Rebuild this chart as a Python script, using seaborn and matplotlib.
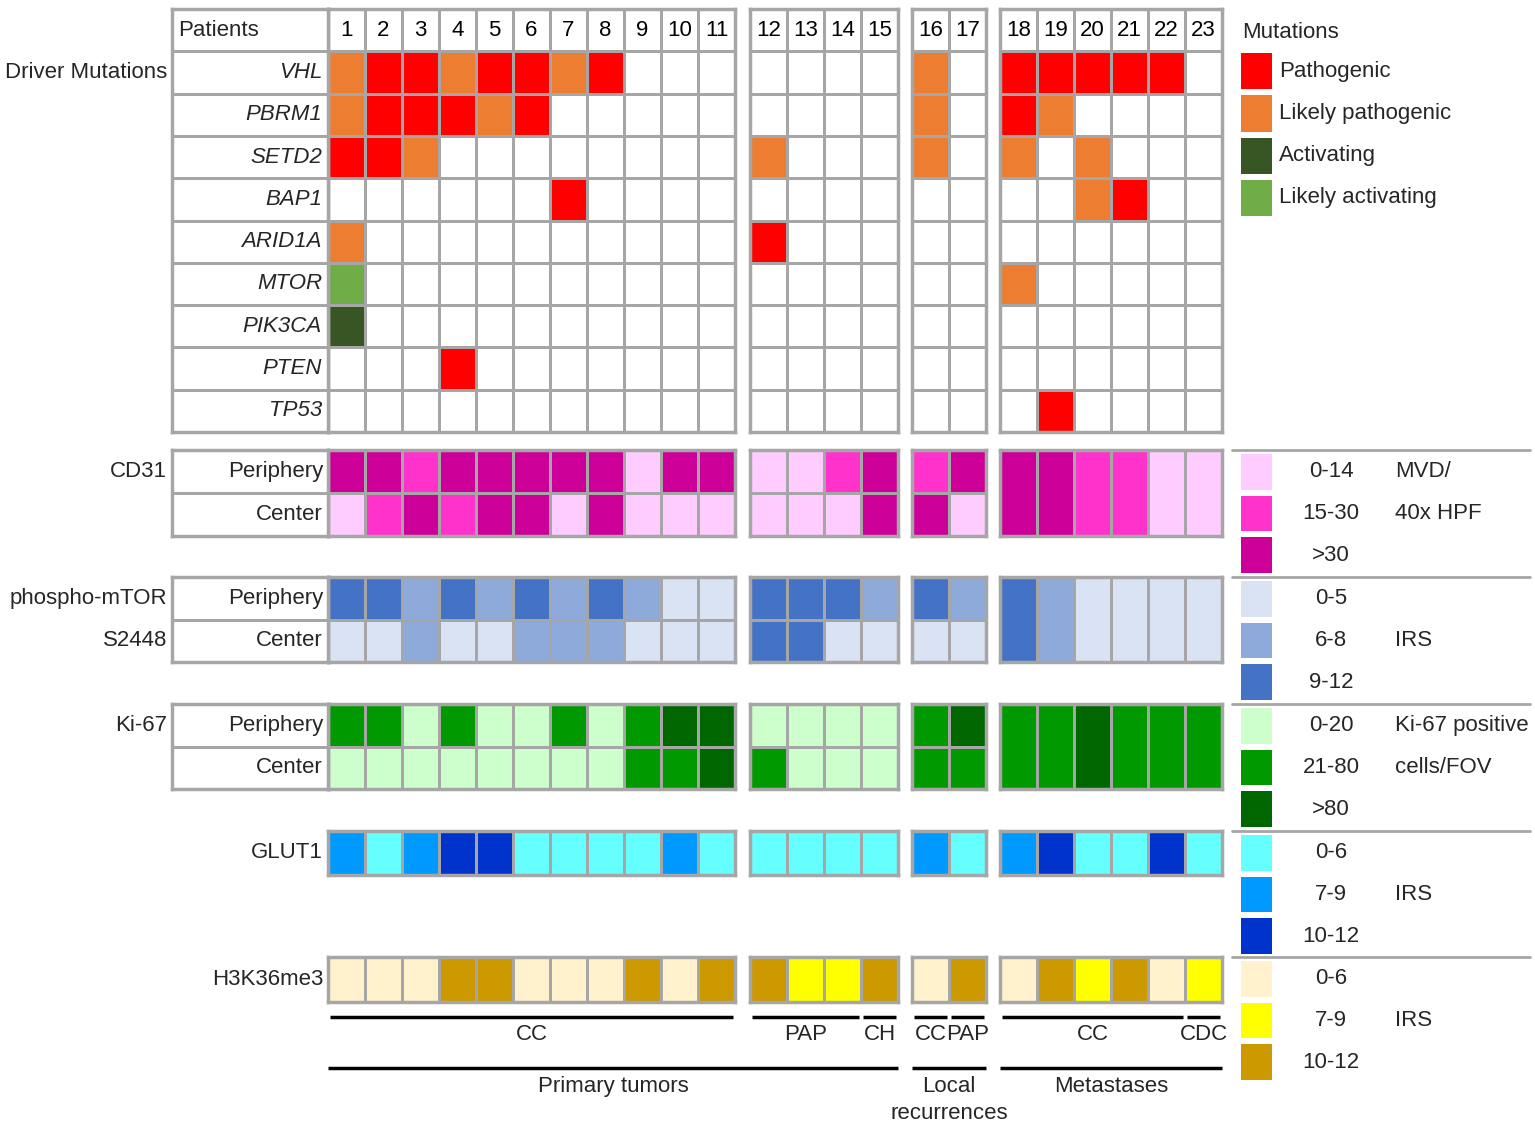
import numpy as np
import seaborn as sns
import matplotlib.pyplot as plt
from matplotlib.colors import ListedColormap

# ---------------------------------------------------------------------
# data
# ---------------------------------------------------------------------
patients = [str(p) for p in range(1, 24)]
groups = [11, 4, 2, 6]  # patients per column block

genes = ["VHL", "PBRM1", "SETD2", "BAP1", "ARID1A", "MTOR", "PIK3CA", "PTEN", "TP53"]
mutation_types = ["Pathogenic", "Likely pathogenic", "Activating", "Likely activating"]
# 0 none, 1 pathogenic, 2 likely pathogenic, 3 activating, 4 likely activating
vhl    = [2, 1, 1, 2, 1, 1, 2, 1, 0, 0, 0,  0, 0, 0, 0,  2, 0,  1, 1, 1, 1, 1, 0]
pbrm1  = [2, 1, 1, 1, 2, 1, 0, 0, 0, 0, 0,  0, 0, 0, 0,  2, 0,  1, 2, 0, 0, 0, 0]
setd2  = [1, 1, 2, 0, 0, 0, 0, 0, 0, 0, 0,  2, 0, 0, 0,  2, 0,  2, 0, 2, 0, 0, 0]
bap1   = [0, 0, 0, 0, 0, 0, 1, 0, 0, 0, 0,  0, 0, 0, 0,  0, 0,  0, 0, 2, 1, 0, 0]
arid1a = [2, 0, 0, 0, 0, 0, 0, 0, 0, 0, 0,  1, 0, 0, 0,  0, 0,  0, 0, 0, 0, 0, 0]
mtor   = [4, 0, 0, 0, 0, 0, 0, 0, 0, 0, 0,  0, 0, 0, 0,  0, 0,  2, 0, 0, 0, 0, 0]
pik3ca = [3, 0, 0, 0, 0, 0, 0, 0, 0, 0, 0,  0, 0, 0, 0,  0, 0,  0, 0, 0, 0, 0, 0]
pten   = [0, 0, 0, 1, 0, 0, 0, 0, 0, 0, 0,  0, 0, 0, 0,  0, 0,  0, 0, 0, 0, 0, 0]
tp53   = [0, 0, 0, 0, 0, 0, 0, 0, 0, 0, 0,  0, 0, 0, 0,  0, 0,  0, 1, 0, 0, 0, 0]

# IHC scores: 0 low, 1 medium, 2 high
cd31_periphery = [2, 2, 1, 2, 2, 2, 2, 2, 0, 2, 2,  0, 0, 1, 2,  1, 2,  2, 2, 1, 1, 0, 0]
cd31_center    = [0, 1, 2, 1, 2, 2, 0, 2, 0, 0, 0,  0, 0, 0, 2,  2, 0,  2, 2, 1, 1, 0, 0]
mtor_periphery = [2, 2, 1, 2, 1, 2, 1, 2, 1, 0, 0,  2, 2, 2, 1,  2, 1,  2, 1, 0, 0, 0, 0]
mtor_center    = [0, 0, 1, 0, 0, 1, 1, 1, 0, 0, 0,  2, 2, 0, 0,  0, 0,  2, 1, 0, 0, 0, 0]
ki67_periphery = [1, 1, 0, 1, 0, 0, 1, 0, 1, 2, 2,  0, 0, 0, 0,  1, 2,  1, 1, 2, 1, 1, 1]
ki67_center    = [0, 0, 0, 0, 0, 0, 0, 0, 1, 1, 2,  1, 0, 0, 0,  1, 1,  1, 1, 2, 1, 1, 1]
glut1          = [1, 0, 1, 2, 2, 0, 0, 0, 0, 1, 0,  0, 0, 0, 0,  1, 0,  1, 2, 0, 0, 2, 0]
h3k36me3       = [0, 0, 0, 2, 2, 0, 0, 0, 2, 0, 2,  2, 1, 1, 2,  0, 2,  0, 2, 1, 2, 0, 1]

cd31_ranges = ["0-14", "15-30", ">30"]
mtor_ranges = ["0-5", "6-8", "9-12"]
ki67_ranges = ["0-20", "21-80", ">80"]
irs_ranges = ["0-6", "7-9", "10-12"]

subtype = ["CC"] * 11 + ["PAP"] * 3 + ["CH"] + ["CC", "PAP"] + ["CC"] * 5 + ["CDC"]
origin = ["Primary tumors"] * 15 + ["Local\nrecurrences"] * 2 + ["Metastases"] * 6

# colours
mut_colors = ["#ffffff", "#ff0000", "#ed7d31", "#375623", "#70ad47"]
cd31_colors = ["#ffccff", "#ff33cc", "#cc0099"]
mtor_colors = ["#dae3f3", "#8eaadb", "#4472c4"]
ki67_colors = ["#ccffcc", "#009900", "#006600"]
glut1_colors = ["#66ffff", "#0099ff", "#0033cc"]
h3k_colors = ["#fff2cc", "#ffff00", "#cc9900"]

# ---------------------------------------------------------------------
# layout (pixels)
# ---------------------------------------------------------------------
W, H = 1535, 1128
GRAY = "#a6a6a6"
FS = 16
col_w = 37
group_x = [328, 750, 912, 1000]
lab_x0, lab_x1 = 172, 328
leg_x0, leg_x1 = 1238, 1275

sns.set_style("white")
plt.rcParams["font.family"] = ["Liberation Sans", "DejaVu Sans"]

fig = plt.figure(figsize=(W / 100, H / 100), dpi=100)


def add_ax(x0, y0, x1, y1):
    return fig.add_axes([x0 / W, 1 - y1 / H, (x1 - x0) / W, (y1 - y0) / H])


def heat(ax, data, colors, annot=None, lw=2.0, lc=GRAY, border=True):
    n = len(colors)
    sns.heatmap(np.asarray(data), ax=ax, cmap=ListedColormap(colors), vmin=-0.5, vmax=n - 0.5,
                cbar=False, linewidths=lw, linecolor=lc,
                annot=annot if annot is not None else False, fmt="",
                annot_kws={"fontsize": FS, "color": "black"},
                xticklabels=False, yticklabels=False)
    for s in ax.spines.values():
        s.set_visible(border)
        s.set_color(GRAY)
        s.set_linewidth(2.5)


def col_left(i):
    start = 0
    for g, n in enumerate(groups):
        if i < start + n:
            return group_x[g] + (i - start) * col_w
        start += n


def group_slices():
    start = 0
    for g, n in enumerate(groups):
        yield g, start, start + n
        start += n


ov = fig.add_axes([0, 0, 1, 1], zorder=5)
ov.set_xlim(0, W)
ov.set_ylim(H, 0)
ov.axis("off")

# ---------------------------------------------------------------------
# driver mutations table (header row + genes)
# ---------------------------------------------------------------------
mut = np.array([[0] * 23, vhl, pbrm1, setd2, bap1, arid1a, mtor, pik3ca, pten, tp53])
mut_y0, mut_y1 = 9, 432
row_h = (mut_y1 - mut_y0) / mut.shape[0]
for g, s, e in group_slices():
    x0 = group_x[g]
    ax = add_ax(x0, mut_y0, x0 + (e - s) * col_w, mut_y1)
    annot = np.full((mut.shape[0], e - s), "", dtype=object)
    annot[0, :] = patients[s:e]
    heat(ax, mut[:, s:e], mut_colors, annot=annot)

ax = add_ax(lab_x0, mut_y0, lab_x1, mut_y1)
heat(ax, np.zeros((mut.shape[0], 1)), ["#ffffff"])
ov.text(lab_x0 + 6, mut_y0 + row_h / 2, "Patients", fontsize=FS, ha="left", va="center")
for r, gene in enumerate(genes):
    yc = mut_y0 + (r + 1.5) * row_h
    ov.text(lab_x1 - 6, yc, gene, fontsize=FS, style="italic", ha="right", va="center")
ov.text(167, mut_y0 + 1.5 * row_h, "Driver Mutations", fontsize=FS, ha="right", va="center")

# mutation legend
ov.text(1242, 32, "Mutations", fontsize=FS, ha="left", va="center")
ax = add_ax(leg_x0, 50, leg_x1, 219)
heat(ax, np.array([[1], [2], [3], [4]]), mut_colors, lw=4, lc="white", border=False)
for r, name in enumerate(mutation_types):
    ov.text(leg_x1 + 4, 50 + (r + 0.5) * (169 / 4), name, fontsize=FS, ha="left", va="center")

# ---------------------------------------------------------------------
# immunohistochemistry blocks
# ---------------------------------------------------------------------
blocks = [
    ([cd31_periphery, cd31_center], ["CD31", ""], 450, 536, cd31_colors, cd31_ranges,
     ["MVD/", "40x HPF", ""], True),
    ([mtor_periphery, mtor_center], ["phospho-mTOR", "S2448"], 577, 662, mtor_colors, mtor_ranges,
     ["", "IRS", ""], True),
    ([ki67_periphery, ki67_center], ["Ki-67", ""], 704, 789, ki67_colors, ki67_ranges,
     ["Ki-67 positive", "cells/FOV", ""], True),
    ([glut1], ["GLUT1"], 831, 875, glut1_colors, irs_ranges, ["", "IRS", ""], False),
    ([h3k36me3], ["H3K36me3"], 957, 1002, h3k_colors, irs_ranges, ["", "IRS", ""], False),
]

for rows, names, y0, y1, colors, ranges, notes, has_regions in blocks:
    data = np.array(rows)
    rh = (y1 - y0) / data.shape[0]
    for g, s, e in group_slices():
        sub = data[:, s:e]
        if sub.shape[0] > 1 and (sub == sub[0]).all():
            sub = sub[:1]  # one value for both regions
        x0 = group_x[g]
        ax = add_ax(x0, y0, x0 + (e - s) * col_w, y1)
        heat(ax, sub, colors)
    if has_regions:
        ax = add_ax(lab_x0, y0, lab_x1, y1)
        heat(ax, np.zeros((data.shape[0], 1)), ["#ffffff"])
        for r, region in enumerate(["Periphery", "Center"]):
            ov.text(lab_x1 - 5, y0 + (r + 0.5) * rh, region, fontsize=FS, ha="right", va="center")
        for r, nm in enumerate(names):
            ov.text(167, y0 + (r + 0.5) * rh, nm, fontsize=FS, ha="right", va="center")
    else:
        ov.text(323, y0 + rh / 2, names[0], fontsize=FS, ha="right", va="center")

    # legend
    leg_h = 126
    ax = add_ax(leg_x0, y0 + 1, leg_x1, y0 + leg_h)
    heat(ax, np.array([[0], [1], [2]]), colors, lw=4, lc="white", border=False)
    ov.plot([leg_x0 - 6, 1530], [y0, y0], color=GRAY, lw=2)
    for r in range(3):
        yc = y0 + 1 + (r + 0.5) * (leg_h - 1) / 3
        ov.text(1331, yc, ranges[r], fontsize=FS, ha="center", va="center")
        if notes[r]:
            ov.text(1395, yc, notes[r], fontsize=FS, ha="left", va="center")

# ---------------------------------------------------------------------
# histology and origin brackets
# ---------------------------------------------------------------------
def runs(labels):
    out, start = [], 0
    for i in range(1, len(labels) + 1):
        if i == len(labels) or labels[i] != labels[start]:
            out.append((labels[start], start, i - 1))
            start = i
    return out


for lab, s, e in runs(subtype):
    xa, xb = col_left(s) + 2, col_left(e) + col_w - 2
    ov.plot([xa, xb], [1017, 1017], color="black", lw=2.5, solid_capstyle="butt")
    ov.text((xa + xb) / 2, 1034, lab, fontsize=FS, ha="center", va="center")

for lab, s, e in runs(origin):
    xa, xb = col_left(s), col_left(e) + col_w
    ov.plot([xa, xb], [1068, 1068], color="black", lw=2.5, solid_capstyle="butt")
    ov.text((xa + xb) / 2, 1076, lab, fontsize=FS, ha="center", va="top", linespacing=1.35)

fig.savefig("out.png", dpi=100)
plt.close(fig)
